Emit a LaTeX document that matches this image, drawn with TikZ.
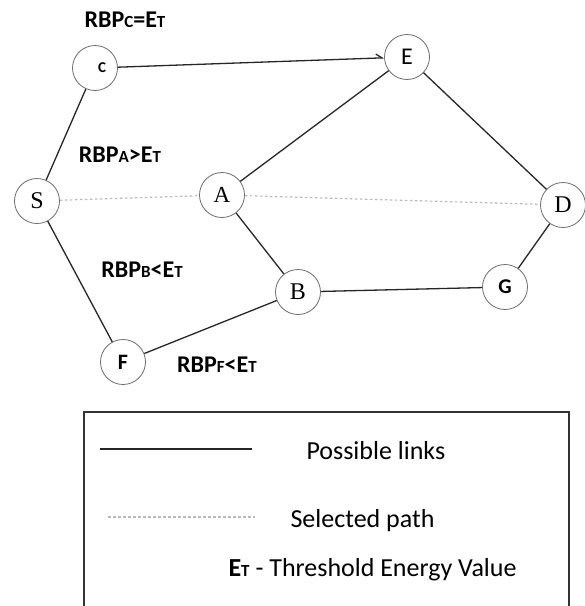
\documentclass[tikz,border=0pt]{standalone}
\usepackage{fontspec}
\setmainfont{Carlito}
\newfontfamily\serifletter{Liberation Serif}
\usetikzlibrary{arrows.meta}
\newcommand{\smallcap}[1]{{\fontsize{17}{17}\selectfont #1}}

\begin{document}
\begin{tikzpicture}[x=1pt,y=-1pt,
    vertex/.style={circle,draw=gray!85!black,line width=0.8pt,minimum size=45pt,inner sep=0pt},
    link/.style={line width=1.3pt,black!85},
    selpath/.style={line width=1.2pt,gray!55,dash pattern=on 2.5pt off 2.5pt},
    rbp/.style={font=\bfseries\fontsize{24}{26}\selectfont},
    legend/.style={font=\fontsize{26}{28}\selectfont,anchor=base west}]
    \useasboundingbox (0,0) rectangle (585,606);
    % nodes
    \node[vertex,font=\bfseries\fontsize{15}{15}\selectfont] (c) at (95,68) {\hspace{14pt}C};
    \node[vertex,font=\fontsize{24}{24}\selectfont] (e) at (407,57) {E};
    \node[vertex,font=\serifletter\fontsize{24}{24}\selectfont] (s) at (37,201) {S};
    \node[vertex,font=\serifletter\fontsize{23}{23}\selectfont] (a) at (222,195) {A};
    \node[vertex,font=\serifletter\fontsize{24}{24}\selectfont] (d) at (563,205) {D};
    \node[vertex,font=\serifletter\fontsize{24}{24}\selectfont] (b) at (298,292) {B};
    \node[vertex,font=\bfseries\fontsize{21}{21}\selectfont] (g) at (505,287) {G};
    \node[vertex,font=\bfseries\fontsize{22}{22}\selectfont] (f) at (123,362) {\raisebox{-5pt}{F}};
    % links
    \draw[link,-{Straight Barb[left,length=6pt,width=8pt]}] (c) -- (e);
    \draw[link] (s) -- (c);
    \draw[link] (s) -- (f);
    \draw[link] (f) -- (b);
    \draw[link] (a) -- (e);
    \draw[link] (a) -- (b);
    \draw[link] (e) -- (d);
    \draw[link] (b) -- (g);
    \draw[link] (g) -- (d);
    \draw[selpath] (s) -- (a);
    \draw[selpath] (a) -- (d);
    % residual battery labels
    \node[rbp] (rbpc) at (125,20) {RBP\smallcap{C}=E\smallcap{T}};
    \node[rbp] (rbpa) at (120,155) {RBP\smallcap{A}>E\smallcap{T}};
    \node[rbp] (rbpb) at (142,270) {RBP\smallcap{B}<E\smallcap{T}};
    \node[rbp] (rbpf) at (217,365) {RBP\smallcap{F}<E\smallcap{T}};
    % legend
    \draw[line width=1.2pt,black!80] (84,606) -- (84,412) -- (569,412) -- (569,606);
    \coordinate (l1) at (100,449);
    \coordinate (l2) at (252,449);
    \coordinate (p1) at (108,517);
    \coordinate (p2) at (255,517);
    \draw[link] (l1) -- (l2);
    \draw[selpath] (p1) -- (p2);
    \node[legend] (possible) at (303,459) {Possible links};
    \node[legend] (selected) at (287,527) {Selected path};
    \node[legend] (threshold) at (225,576) {\textbf{E\smallcap{T}} - Threshold Energy Value};
\end{tikzpicture}
\end{document}
